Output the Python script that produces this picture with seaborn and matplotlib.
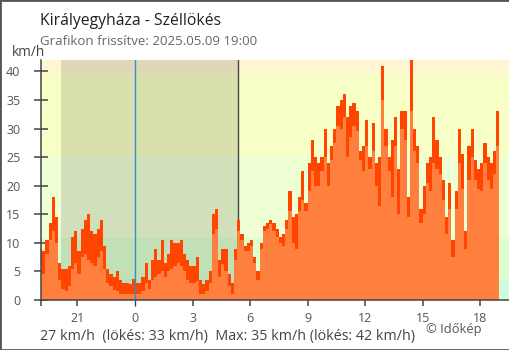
import numpy as np
import pandas as pd
import matplotlib
matplotlib.use("Agg")
import matplotlib.pyplot as plt
from matplotlib.patches import Rectangle
import seaborn as sns

# 10-minute wind readings, 19:00 (previous day) -> 19:00, km/h
gust = [
    9, 8.5, 10.5, 13.5, 18, 14.5, 6.5, 5.5, 5.5, 6,
    11, 12, 8.5, 12.5, 14, 15, 12, 11.5, 12.5, 14,
    9.5, 5.5, 4.5, 4, 5, 3.5, 3, 3, 2.8, 3.7,
    3, 3, 4, 6.5, 3.5, 7, 9, 7, 10.5, 6.5,
    8, 10.5, 10, 10, 10.5, 8, 7, 6, 6, 7.5,
    3.5, 2.8, 3.5, 5, 15, 16, 7, 9, 9, 4.5,
    3, 9, 14, 11.5, 9.5, 10, 10.5, 7.5, 5, 10,
    13, 13.5, 14, 13.5, 12.5, 11, 11.5, 14, 19, 14.5,
    15, 18, 22.5, 17, 24, 28, 25, 24, 25, 30,
    24, 27, 30, 34, 35, 36, 32, 34, 34.5, 33,
    26, 27, 31.5, 25, 31, 24, 25, 41, 30, 25,
    28, 32, 23, 33, 33, 18, 42, 30, 27, 16,
    20, 24, 25, 32, 28, 25, 21, 14.5, 20.5, 10.5,
    19, 30, 25.5, 12, 27, 30, 24.5, 23, 24, 27.5,
    25, 24, 26, 33,
]
mean = [
    6, 4.5, 8, 10.5, 12, 10, 3.5, 2, 1.5, 2.5,
    5.5, 6.5, 4.5, 7.5, 8, 7, 6.5, 6, 7.5, 8.5,
    5.5, 3, 2.5, 1.8, 1.6, 1, 1, 1, 1, 1,
    1, 1, 1.5, 3, 2, 3.5, 4, 4.5, 5, 4,
    5, 5.5, 6, 6.5, 6, 5, 3.5, 3, 3, 3.4,
    1, 1, 1.5, 3, 11.5, 12.5, 4, 6.3, 5, 2.5,
    1, 7, 12, 10.5, 8.5, 8.5, 9.5, 6.5, 3.5, 9,
    12, 12.5, 13.3, 12, 11, 10, 9.5, 12.5, 15.5, 10,
    9, 15.5, 17.5, 15.5, 19, 22.5, 20, 20, 22.5, 25,
    20, 24.5, 27.5, 30.5, 30, 32, 25, 28.5, 30.5, 29.5,
    24.5, 22.5, 27, 23, 26, 20, 16.5, 35, 27, 22.5,
    18, 27, 15, 30, 28, 14.5, 33, 26, 24, 13.5,
    15, 20.5, 19, 24, 23, 22, 17.5, 11.5, 16, 7.5,
    16, 24, 19.5, 9, 21, 25, 21, 19.5, 19, 24,
    21, 19.5, 22, 27,
]

start_hour = -5.0          # 19:00 of the previous day
step_hours = 1 / 6         # 10 minutes

hour_ticks = [-3, 0, 3, 6, 9, 12, 15, 18]
hour_labels = ["21", "0", "3", "6", "9", "12", "15", "18"]
speed_ticks = [0, 5, 10, 15, 20, 25, 30, 35, 40]

# Beaufort-like background bands (km/h)
band_edges = [0, 3.6, 10.8, 25.2, 39.6, 60]
band_colors = ["#ccfdde", "#ddffcf", "#efffd4", "#f8ffc6", "#fff5d2"]
night_span = (-3.87, 5.38)

title = "Királyegyháza - Széllökés"
subtitle = "Grafikon frissítve: 2025.05.09 19:00"
summary = "27 km/h  (lökés: 33 km/h)  Max: 35 km/h (lökés: 42 km/h)"
credit = "© Időkép"

sns.set_theme(style="white")
plt.rcParams["font.family"] = ["Open Sans", "DejaVu Sans"]

fig = plt.figure(figsize=(5.1, 3.5), dpi=100)
ax = fig.add_axes([41 / 510, 50 / 350, 468 / 510, 240 / 350])

n = len(gust)
centers = start_hour + (np.arange(n) + 0.5) * step_hours
edges = [float(start_hour + k * step_hours) for k in range(n + 1)]
df = pd.DataFrame({"hour": centers, "gust": gust, "mean": mean})

for lo, hi, c in zip(band_edges[:-1], band_edges[1:], band_colors):
    ax.axhspan(lo, hi, color=c, lw=0, zorder=0)
ax.axvspan(*night_span, color="black", alpha=0.12, lw=0, zorder=0.5)
ax.axvline(night_span[1], color="#444444", lw=1, zorder=1)

sns.histplot(data=df, x="hour", weights="gust", bins=edges, element="step",
             fill=True, color="#ff4500", alpha=1, linewidth=0, ax=ax, zorder=2)
sns.histplot(data=df, x="hour", weights="mean", bins=edges, element="step",
             fill=True, color="#ff7f3f", alpha=1, linewidth=0, ax=ax, zorder=3)
ax.axvline(0, color="#2f8fd0", lw=1, zorder=4)

ax.set_xlim(-4.9, 19.5)
ax.set_ylim(0, 42)
ax.set_xlabel("")
ax.set_ylabel("")
ax.set_xticks([-4.9] + hour_ticks)
ax.set_xticklabels([""] + hour_labels)
ax.set_yticks(speed_ticks)
ax.set_yticklabels([str(v) for v in speed_ticks])

for side in ("top", "right"):
    ax.spines[side].set_visible(False)
for side in ("left", "bottom"):
    ax.spines[side].set_color("#444444")
    ax.spines[side].set_linewidth(1.1)
    ax.spines[side].set_zorder(5)

ax.tick_params(axis="y", direction="inout", length=9.6, width=1.1, color="#444444",
               labelsize=9, labelcolor="#555555", pad=10, left=True)
ax.tick_params(axis="x", direction="out", length=4.4, width=1.1, color="#444444",
               labelsize=9, labelcolor="#555555", pad=4, bottom=True)
for tick, loc in zip(ax.xaxis.get_major_ticks(), ax.get_xticks()):
    if loc == 0:
        tick.tick1line.set_color("#2f8fd0")
        tick.tick1line.set_markeredgewidth(1)

fig.text(40 / 510, 1 - 25 / 350, title, fontsize=11.3, color="#222222", va="baseline")
fig.text(40 / 510, 1 - 45 / 350, subtitle, fontsize=9.5, color="#666666", va="baseline")
fig.text(12 / 510, 1 - 56 / 350, "km/h", fontsize=9.8, color="#444444", va="baseline")
fig.text(40 / 510, 1 - 340 / 350, summary, fontsize=10.3, color="#444444", va="baseline")
fig.text(426 / 510, 1 - 333 / 350, credit, fontsize=9.3, color="#555555", va="baseline")

fig.patches.append(Rectangle((0, 0), 1, 1, transform=fig.transFigure, fill=False,
                             edgecolor="#555555", linewidth=2))

fig.savefig("out.png", dpi=100)
